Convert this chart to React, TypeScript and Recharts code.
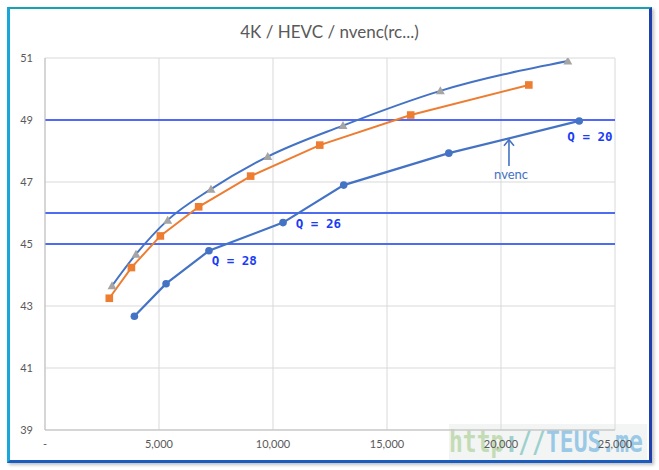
import React from 'react'
import {
  LineChart, Line, XAxis, YAxis, CartesianGrid, ReferenceLine, ReferenceDot,
} from 'recharts'

// bitrate (kbps) vs PSNR (dB)
const triBitrate = [2940, 3990, 5380, 7280, 9770, 13070, 17340, 22930]
const triPsnr = [43.65, 44.67, 45.77, 46.77, 47.82, 48.82, 49.94, 50.9]
const sqBitrate = [2820, 3790, 5060, 6740, 9020, 12050, 16040, 21220]
const sqPsnr = [43.25, 44.24, 45.26, 46.2, 47.19, 48.19, 49.16, 50.13]
const nvBitrate = [3920, 5310, 7190, 10440, 13100, 17710, 23430]
const nvPsnr = [42.67, 43.72, 44.78, 45.69, 46.9, 47.93, 48.97]

const xTicks = [0, 5000, 10000, 15000, 20000, 25000]
const yTicks = [39, 41, 43, 45, 47, 49, 51]
const guideLevels = [49, 46, 45]

// label anchors in data units [bitrate, psnr, text]
const qLabels: [number, number, string][] = [
  [23900, 48.48, 'Q = 20'],
  [11990, 45.65, 'Q = 26'],
  [8300, 44.46, 'Q = 28'],
]
const nvencLabel: [number, number, string] = [20440, 47.26, 'nvenc']
const arrowFrom = { x: 20350, y: 47.52 }
const arrowTo = { x: 20350, y: 48.36 }

const zip = (xs: number[], ys: number[]) => xs.map((x, i) => ({ x, y: ys[i] }))

const BLUE = '#4472c4'
const ORANGE = '#ed7d31'
const GRAY = '#a5a5a5'
const FONT = 'Lato, "Open Sans", sans-serif'

const TriDot = (p: any) => {
  const { cx, cy, index } = p
  if (cx == null || cy == null) return <g key={`t${index}`} />
  return (
    <polygon
      key={`t${index}`}
      points={`${cx},${cy - 4.5} ${cx + 4.5},${cy + 3.5} ${cx - 4.5},${cy + 3.5}`}
      fill={GRAY}
    />
  )
}

const SqDot = (p: any) => {
  const { cx, cy, index } = p
  if (cx == null || cy == null) return <g key={`s${index}`} />
  return <rect key={`s${index}`} x={cx - 3.8} y={cy - 3.8} width={7.6} height={7.6} fill={ORANGE} />
}

const CircDot = (p: any) => {
  const { cx, cy, index } = p
  if (cx == null || cy == null) return <g key={`c${index}`} />
  return <circle key={`c${index}`} cx={cx} cy={cy} r={3.8} fill={BLUE} />
}

const ArrowShape = (p: any) => {
  const { x1, y1, x2, y2 } = p
  if (x1 == null) return null
  const tx = x2, ty = Math.min(y1, y2), by = Math.max(y1, y2)
  return (
    <g stroke={BLUE} strokeWidth={1.6} fill="none">
      <line x1={tx} y1={by} x2={tx} y2={ty} />
      <polyline points={`${tx - 5},${ty + 6} ${tx},${ty} ${tx + 5},${ty + 6}`} />
    </g>
  )
}

const fmtX = (v: number) => (v === 0 ? '-' : v.toLocaleString('en-US'))

export default function App() {
  const tick = { fill: '#595959', fontSize: 11, fontFamily: FONT }
  return (
    <div style={{ position: 'absolute', left: 0, top: 0, width: 659, height: 470, background: '#fff' }}>
      <div
        style={{
          position: 'absolute', left: 7, top: 7, width: 645, height: 456, boxSizing: 'border-box',
          borderTop: '2px solid #17a2b4', borderLeft: '3px solid #19a6da',
          borderRight: '3px solid #1f3fae', borderBottom: '3px solid #1a5cc0',
          boxShadow: '2px 2px 3px rgba(0,0,0,0.25)', background: '#fff',
        }}
      />
      <div
        style={{
          position: 'absolute', left: 449, top: 424, width: 198, height: 36,
          background: '#f3f5f5', overflow: 'hidden',
        }}
      >
        <div
          style={{
            fontFamily: '"DejaVu Sans Mono", monospace', fontWeight: 700, fontSize: 23,
            lineHeight: '36px', whiteSpace: 'nowrap', opacity: 0.85,
            transform: 'scaleY(1.3)', transformOrigin: 'center',
          }}
        >
          <span style={{ color: '#bcd8aa' }}>http</span>
          <span style={{ color: '#8fcac6' }}>://</span>
          <span style={{ color: '#8ac2e4' }}>TEUS.me</span>
        </div>
      </div>
      <div
        style={{
          position: 'absolute', left: 0, top: 21, width: 659, textAlign: 'center',
          fontFamily: FONT, fontSize: 17, color: '#595959',
        }}
      >
        4K / HEVC / nvenc(rc...)
      </div>
      <div style={{ position: 'absolute', left: 0, top: 0 }}>
        <LineChart width={659} height={470} margin={{ top: 58, right: 44, bottom: 20, left: 0 }}>
          <CartesianGrid stroke="#d9d9d9" strokeWidth={1} />
          <XAxis
            type="number" dataKey="x" domain={[0, 25000]} ticks={xTicks} tickFormatter={fmtX}
            stroke="#bfbfbf" tickLine={false} tick={tick} tickSize={6} tickMargin={4} height={20}
            allowDataOverflow
          />
          <YAxis
            type="number" domain={[39, 51]} ticks={yTicks} stroke="#bfbfbf" tickLine={false}
            tick={tick} tickSize={6} tickMargin={6} width={45} allowDataOverflow
          />
          {guideLevels.map((v) => (
            <ReferenceLine
              key={v} y={v} stroke={v === 49 ? '#1f3cff' : '#4c6cf2'} strokeWidth={v === 49 ? 1.5 : 2}
            />
          ))}
          <Line
            data={zip(nvBitrate, nvPsnr)} dataKey="y" name="nvenc" type="linear" stroke={BLUE}
            strokeWidth={2.2} dot={CircDot} isAnimationActive={false}
          />
          <Line
            data={zip(sqBitrate, sqPsnr)} dataKey="y" name="orange" type="linear" stroke={ORANGE}
            strokeWidth={2} dot={SqDot} isAnimationActive={false}
          />
          <Line
            data={zip(triBitrate, triPsnr)} dataKey="y" name="gray" type="monotone" stroke={BLUE}
            strokeWidth={2} dot={TriDot} isAnimationActive={false}
          />
          {qLabels.map(([x, y, t]) => (
            <ReferenceDot
              key={t} x={x} y={y} r={0} stroke="none" fill="none"
              label={{
                value: t, position: 'center', fill: '#1a3cf5', fontSize: 12.5, fontWeight: 700,
                fontFamily: '"DejaVu Sans Mono", monospace',
              }}
            />
          ))}
          <ReferenceDot
            x={nvencLabel[0]} y={nvencLabel[1]} r={0} stroke="none" fill="none"
            label={{ value: nvencLabel[2], position: 'center', fill: BLUE, fontSize: 13, fontFamily: FONT }}
          />
          <ReferenceLine
            segment={[arrowFrom, arrowTo]} stroke={BLUE} shape={ArrowShape}
          />
        </LineChart>
      </div>
    </div>
  )
}
